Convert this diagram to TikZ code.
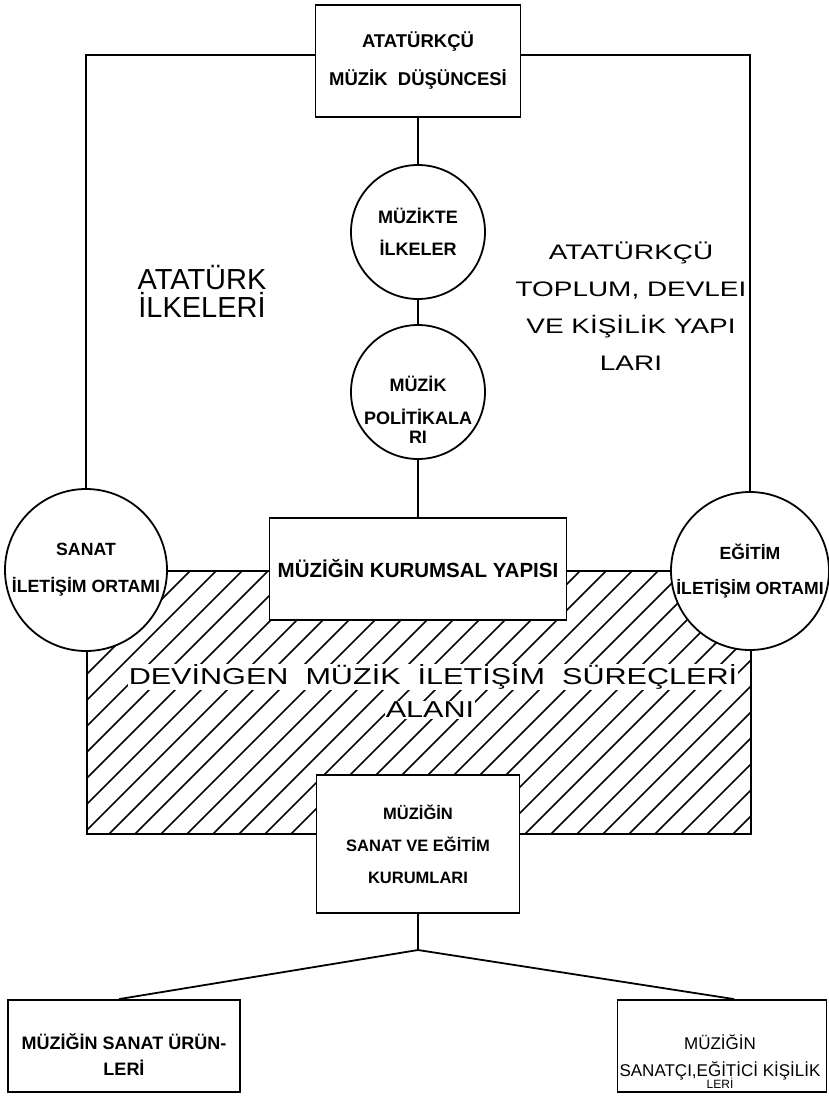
\documentclass[tikz,border=0pt]{standalone}
\usepackage{fontspec}
\setmainfont{Liberation Sans}
\newfontfamily\widefont[FakeStretch=1.33]{Liberation Sans}
\usetikzlibrary{positioning}

\begin{document}
\begin{tikzpicture}[x=1pt,y=-1pt,
  line/.style={line width=1.8pt},
  box/.style={draw,line width=1.8pt,fill=white,rectangle,align=center},
  circ/.style={draw,line width=1.8pt,fill=white,circle,inner sep=0pt,align=center}]
  \def\fsz#1#2{\fontsize{#1}{#2}\selectfont}
  \useasboundingbox (0,0) rectangle (828,1101);
  \fill[white] (0,0) rectangle (828,1101);

  % hatched area
  \coordinate (hnw) at (87,571);
  \coordinate (hse) at (751,834);
  \begin{scope}
    \clip (hnw) rectangle (hse);
    \foreach \x in {-177,-151,...,751}
      \draw[line width=1.5pt] (\x,834) -- ++(263,-263);
  \end{scope}
  \draw[line] (hnw) rectangle (hse);
  \node[fill=white,inner sep=1pt,font=\widefont\fsz{23}{23}] (surec) at (433,677)
    {DEVİNGEN\ \ MÜZİK\ \ İLETİŞİM\ \ SÜREÇLERİ};
  \node[fill=white,inner sep=1pt,font=\widefont\fsz{23}{23}] (alani) at (430,710) {ALANI};

  % boxes and circles
  \node[box,minimum width=205pt,minimum height=112pt,font=\fsz{18.5}{38}\bfseries]
    (topbox) at (418,61) {ATATÜRKÇÜ\\MÜZİK\ \ DÜŞÜNCESİ};
  \node[circ,minimum size=134pt,font=\fsz{18}{32}\bfseries] (ilke) at (418,232)
    {MÜZİKTE\\İLKELER};
  \node[circ,minimum size=134pt] (politika) at (418,392) {};
  \node[align=center,font=\fsz{18}{19}\bfseries] (politikatxt) at (418,410)
    {MÜZİK\\[14pt]POLİTİKALA\\RI};
  \node[box,minimum width=297pt,minimum height=102pt,font=\fsz{20.5}{22}\bfseries]
    (kurum) at (418,569) {MÜZİĞİN KURUMSAL YAPISI};
  \node[circ,minimum size=162pt,font=\fsz{17.7}{37}\bfseries] (sanat) at (86,570)
    {SANAT\\İLETİŞİM ORTAMI};
  \node[circ,minimum size=158pt,font=\fsz{17.6}{35}\bfseries] (egitim) at (750,571)
    {EĞİTİM\\İLETİŞİM ORTAMI};
  \node[box,minimum width=203pt,minimum height=138pt,font=\fsz{16.5}{32}\bfseries]
    (kurumlar) at (418,844) {MÜZİĞİN\\SANAT VE EĞİTİM\\KURUMLARI};
  \node[box,minimum width=232pt,minimum height=92pt] (urun) at (124,1046) {};
  \node[align=center,font=\fsz{18}{26}\bfseries] (uruntxt) at (124,1055)
    {MÜZİĞİN SANAT ÜRÜN-\\LERİ};
  \node[box,minimum width=209pt,minimum height=92pt] (sanatci) at (722,1046) {};
  \node[align=center,font=\fsz{17}{27}] (sanatcitxt) at (720,1062)
    {MÜZİĞİN\\SANATÇI,EĞİTİCİ KİŞİLİK\\[-15pt]{\fsz{12}{12}LERİ}};

  % free texts
  \node[align=center,font=\fsz{29}{28}] (ilkeleri) at (202,291) {ATATÜRK\\İLKELERİ};
  \node[align=center,font=\widefont\fsz{21}{37}] (yapilar) at (631,306)
    {ATATÜRKÇÜ\\TOPLUM, DEVLEI\\VE KİŞİLİK YAPI\\LARI};

  % connectors
  \coordinate (ftl) at (87,55);
  \coordinate (ftr) at (751,55);
  \coordinate (fork) at (418,950);
  \draw[line] (sanat.north) -- (sanat.north |- ftl) -- (ftl -| topbox.west);
  \draw[line] (egitim.north) -- (egitim.north |- ftr) -- (ftr -| topbox.east);
  \draw[line] (topbox.south) -- (ilke.north);
  \draw[line] (ilke.south) -- (politika.north);
  \draw[line] (politika.south) -- (kurum.north);
  \draw[line] (kurumlar.south) -- (fork) -- ([xshift=-5pt]urun.north);
  \draw[line] (fork) -- ([xshift=12pt]sanatci.north);
\end{tikzpicture}
\end{document}
